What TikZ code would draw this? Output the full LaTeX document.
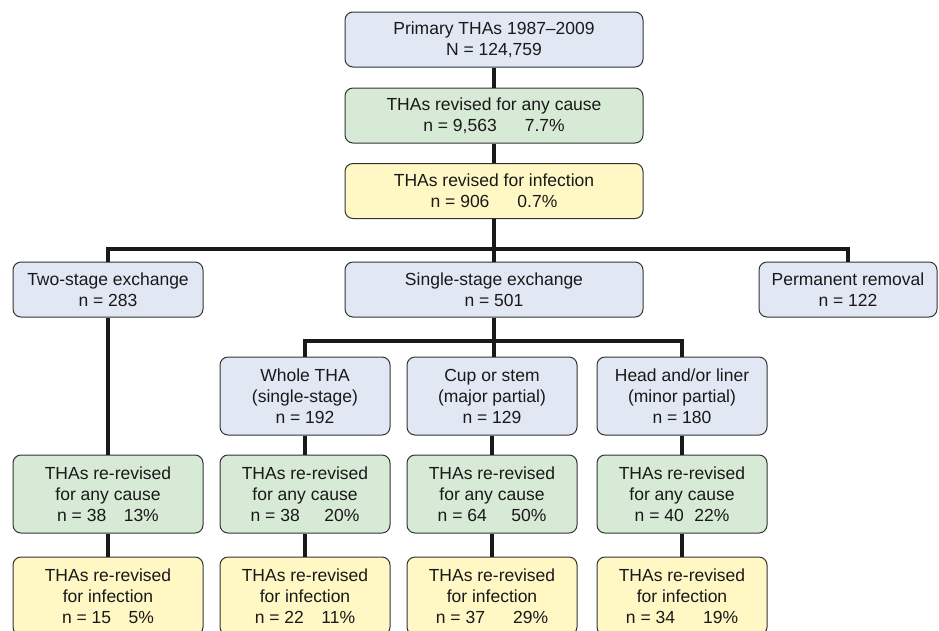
\documentclass[tikz,border=0pt]{standalone}
\usepackage{fontspec}
\setmainfont{Liberation Sans}
\definecolor{boxblue}{RGB}{225,232,244}
\definecolor{boxgreen}{RGB}{214,234,214}
\definecolor{boxyellow}{RGB}{255,248,196}
\begin{document}
\begin{tikzpicture}[x=1pt, y=-1pt,
		box/.style={draw=black!80, line width=1pt, rounded corners=8pt, align=center,
			inner sep=2pt, text=black!90, font=\fontsize{17.5}{21}\selectfont},
		bluebox/.style={box, fill=boxblue},
		greenbox/.style={box, fill=boxgreen},
		yellowbox/.style={box, fill=boxyellow},
		wide/.style={minimum width=298pt, minimum height=55pt},
		narrow/.style={minimum width=170pt, minimum height=78pt},
		link/.style={line width=3.2pt, black!90}]
				\useasboundingbox (0,0) rectangle (939,630);
				\node[bluebox, wide] (primary) at (494,39.5) {Primary THAs 1987–2009\\N = 124,759};
				\node[greenbox, wide] (anycause) at (494,115.5) {THAs revised for any cause\\n = 9,563\hspace{1.6em}7.7\%};
				\node[yellowbox, wide] (infection) at (494,191) {THAs revised for infection\\n = 906\hspace{1.6em}0.7\%};
				\node[bluebox, minimum width=190pt, minimum height=55pt] (twostage) at (108,289.5) {Two-stage exchange\\n = 283};
				\node[bluebox, wide] (singlestage) at (494,289.5) {Single-stage exchange\\n = 501};
				\node[bluebox, minimum width=178pt, minimum height=55pt] (removal) at (848,289.5) {Permanent removal\\n = 122};
				\node[bluebox, narrow] (whole) at (305,396) {Whole THA\\(single-stage)\\n = 192};
				\node[bluebox, narrow] (cupstem) at (492,396) {Cup or stem\\(major partial)\\n = 129};
				\node[bluebox, narrow] (headliner) at (682,396) {Head and/or liner\\(minor partial)\\n = 180};
				\node[greenbox, minimum width=190pt, minimum height=78pt] (anytwo) at (108,494) {THAs re-revised\\for any cause\\n = 38\hspace{1em}13\%};
				\node[greenbox, narrow] (anywhole) at (305,494) {THAs re-revised\\for any cause\\n = 38\hspace{1.4em}20\%};
				\node[greenbox, narrow] (anycup) at (492,494) {THAs re-revised\\for any cause\\n = 64\hspace{1.4em}50\%};
				\node[greenbox, narrow] (anyhead) at (682,494) {THAs re-revised\\for any cause\\n = 40\hspace{0.6em}22\%};
				\node[yellowbox, minimum width=190pt, minimum height=78pt] (inftwo) at (108,596) {THAs re-revised\\for infection\\n = 15\hspace{1em}5\%};
				\node[yellowbox, narrow] (infwhole) at (305,596) {THAs re-revised\\for infection\\n = 22\hspace{1em}11\%};
				\node[yellowbox, narrow] (infcup) at (492,596) {THAs re-revised\\for infection\\n = 37\hspace{1.6em}29\%};
				\node[yellowbox, narrow] (infhead) at (682,596) {THAs re-revised\\for infection\\n = 34\hspace{1.6em}19\%};
				\coordinate (split) at (494,249);
				\coordinate (subsplit) at (494,341);
				\draw[link] (primary) -- (anycause);
				\draw[link] (anycause) -- (infection);
				\draw[link] (infection) -- (singlestage);
				\draw[link] (twostage.north) |- (split) -| (removal.north);
				\draw[link] (singlestage.south) -- (singlestage.south |- cupstem.north);
				\draw[link] (whole.north) |- (subsplit) -| (headliner.north);
				\draw[link] (twostage) -- (anytwo);
				\foreach \col in {whole, cupstem, headliner} {
					\draw[link] (\col.south) -- (\col.south |- anywhole.north);
				}
				\foreach \a/\b in {anytwo/inftwo, anywhole/infwhole, anycup/infcup, anyhead/infhead} {
					\draw[link] (\a) -- (\b);
				}
			\end{tikzpicture}
\end{document}
